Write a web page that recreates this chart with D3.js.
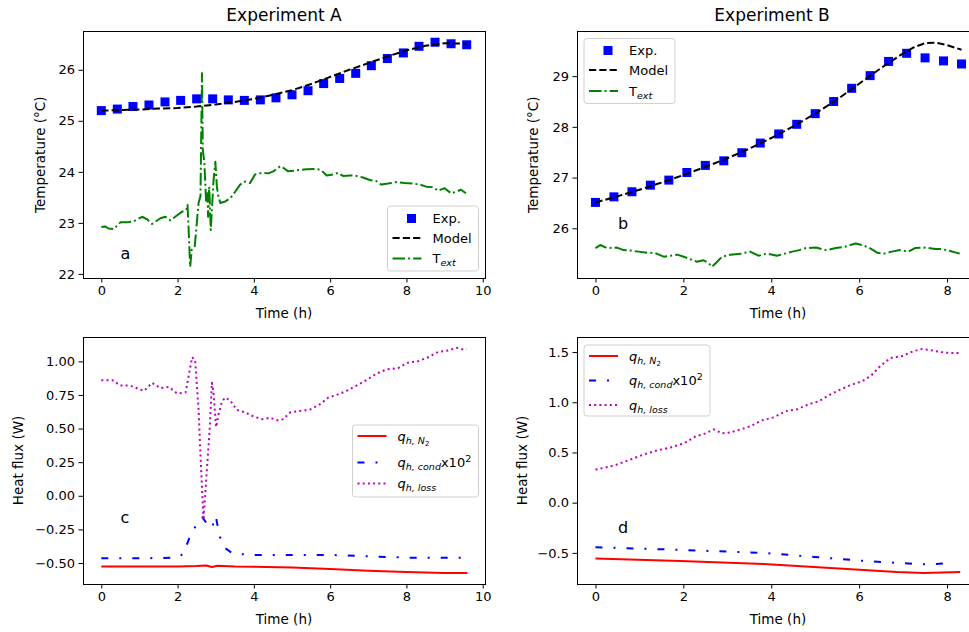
<!DOCTYPE html>
<html>
<head>
<meta charset="utf-8">
<script src="https://cdn.jsdelivr.net/npm/d3@7"></script>
<style>
  html, body { margin: 0; padding: 0; background: #fff; }
  svg { display: block; overflow: hidden; font-family: "DejaVu Sans", sans-serif; }
</style>
</head>
<body>
<div id="chart"></div>
<script>
// ---- data ----
var timeExp = [0, 0.42, 0.83, 1.25, 1.67, 2.08, 2.5, 2.92, 3.33, 3.75, 4.17, 4.58, 5, 5.42, 5.83, 6.25, 6.67, 7.08, 7.5, 7.92, 8.33, 8.75, 9.17, 9.58];

var expA = [25.20, 25.23, 25.28, 25.31, 25.37, 25.40, 25.43, 25.43, 25.41, 25.40, 25.41, 25.45, 25.51, 25.59, 25.73, 25.83, 25.93, 26.08, 26.22, 26.33, 26.46, 26.54, 26.51, 26.49];
var modelTimeA = [0, 0.5, 1, 1.5, 2, 2.5, 3, 3.5, 4, 4.5, 5, 5.5, 6, 6.5, 7, 7.5, 8, 8.5, 9, 9.58];
var modelA = [25.20, 25.21, 25.22, 25.24, 25.25, 25.28, 25.32, 25.37, 25.43, 25.51, 25.60, 25.72, 25.86, 26.00, 26.13, 26.26, 26.38, 26.47, 26.52, 26.51];
var extTimeA = [0, 0.1, 0.19, 0.33, 0.5, 0.67, 0.85, 1.07, 1.2, 1.33, 1.55, 1.68, 1.81, 1.99, 2.12, 2.23, 2.26, 2.29, 2.33, 2.37, 2.45, 2.55, 2.6, 2.64, 2.66, 2.7, 2.75, 2.78, 2.8, 2.83, 2.87, 2.94, 2.99, 3.03, 3.07, 3.12, 3.25, 3.38, 3.51, 3.64, 3.77, 3.9, 4.03, 4.21, 4.38, 4.51, 4.69, 4.77, 4.9, 5.12, 5.38, 5.64, 5.77, 5.91, 6.08, 6.21, 6.34, 6.52, 6.69, 6.86, 7.04, 7.21, 7.34, 7.52, 7.73, 7.95, 8.17, 8.35, 8.52, 8.7, 8.83, 9.0, 9.17, 9.3, 9.43, 9.56];
var extA = [22.92, 22.93, 22.89, 22.88, 23.01, 23.01, 23.03, 23.12, 23.07, 22.98, 23.09, 23.12, 23.05, 23.15, 23.22, 23.25, 23.35, 22.86, 22.14, 22.47, 22.54, 23.39, 23.52, 25.93, 24.43, 24.20, 23.39, 23.58, 23.12, 23.71, 22.86, 23.81, 24.20, 23.71, 23.52, 23.39, 23.42, 23.48, 23.61, 23.75, 23.81, 23.78, 23.95, 23.98, 23.97, 24.01, 24.11, 24.08, 24.01, 24.03, 24.05, 24.06, 24.03, 23.93, 23.95, 23.98, 23.92, 23.93, 23.92, 23.89, 23.84, 23.82, 23.75, 23.77, 23.80, 23.78, 23.77, 23.75, 23.71, 23.70, 23.63, 23.68, 23.58, 23.61, 23.65, 23.58];

var expB = [26.51, 26.62, 26.72, 26.85, 26.95, 27.10, 27.24, 27.33, 27.49, 27.68, 27.86, 28.05, 28.26, 28.50, 28.76, 29.01, 29.29, 29.45, 29.36, 29.30, 29.24];
var modelTimeB = [0, 0.5, 1, 1.5, 2, 2.5, 3, 3.5, 4, 4.5, 5, 5.5, 6, 6.5, 7, 7.25, 7.5, 7.75, 8, 8.33];
var modelB = [26.51, 26.63, 26.76, 26.90, 27.05, 27.21, 27.38, 27.57, 27.78, 28.01, 28.26, 28.54, 28.85, 29.16, 29.45, 29.57, 29.65, 29.66, 29.61, 29.52];
var extTimeB = [0, 0.11, 0.26, 0.49, 0.64, 0.79, 0.98, 1.17, 1.36, 1.55, 1.71, 1.86, 2.01, 2.16, 2.31, 2.46, 2.58, 2.65, 2.77, 2.88, 3.07, 3.3, 3.52, 3.71, 3.9, 4.13, 4.36, 4.48, 4.64, 4.79, 5.02, 5.25, 5.47, 5.69, 5.92, 6.07, 6.22, 6.41, 6.56, 6.74, 6.93, 7.12, 7.27, 7.5, 7.73, 7.88, 8.03, 8.29];
var extB = [25.61, 25.67, 25.61, 25.62, 25.57, 25.56, 25.54, 25.52, 25.51, 25.44, 25.46, 25.48, 25.44, 25.39, 25.34, 25.37, 25.31, 25.24, 25.34, 25.44, 25.48, 25.50, 25.54, 25.46, 25.50, 25.46, 25.51, 25.54, 25.57, 25.61, 25.62, 25.57, 25.61, 25.64, 25.70, 25.67, 25.62, 25.52, 25.50, 25.54, 25.57, 25.54, 25.61, 25.62, 25.59, 25.59, 25.56, 25.50];

var lossTimeC = [0, 0.29, 0.5, 0.75, 1.12, 1.33, 1.55, 1.77, 1.99, 2.21, 2.29, 2.38, 2.46, 2.55, 2.61, 2.68, 2.75, 2.84, 2.9, 2.94, 3.01, 3.07, 3.16, 3.25, 3.38, 3.55, 3.77, 3.99, 4.21, 4.43, 4.64, 4.77, 4.95, 5.16, 5.47, 5.73, 5.95, 6.17, 6.43, 6.69, 6.95, 7.22, 7.48, 7.78, 8.04, 8.3, 8.57, 8.83, 9.09, 9.31, 9.45, 9.58];
var lossC = [0.86, 0.86, 0.82, 0.82, 0.78, 0.84, 0.80, 0.81, 0.76, 0.77, 0.89, 1.03, 1.01, 0.64, 0.24, -0.18, 0.12, 0.49, 0.84, 0.77, 0.51, 0.60, 0.70, 0.73, 0.71, 0.64, 0.62, 0.59, 0.57, 0.58, 0.56, 0.57, 0.62, 0.63, 0.64, 0.68, 0.73, 0.75, 0.78, 0.82, 0.86, 0.91, 0.94, 0.95, 0.99, 1.00, 1.03, 1.07, 1.08, 1.10, 1.09, 1.09];
var condTimeC = [0, 1, 2, 2.15, 2.3, 2.5, 2.65, 2.8, 2.9, 3.0, 3.1, 3.25, 3.45, 4, 5, 6, 7, 8, 9, 9.5];
var condC = [-0.465, -0.465, -0.46, -0.43, -0.32, -0.21, -0.16, -0.22, -0.24, -0.15, -0.30, -0.39, -0.43, -0.44, -0.44, -0.44, -0.45, -0.46, -0.46, -0.46];
var n2TimeC = [0, 1, 2, 2.5, 2.75, 2.9, 3.05, 3.5, 4, 5, 6, 7, 8, 9, 9.6];
var n2C = [-0.525, -0.525, -0.525, -0.522, -0.518, -0.53, -0.52, -0.525, -0.527, -0.533, -0.545, -0.557, -0.567, -0.575, -0.575];

var lossTimeD = [0, 0.23, 0.49, 0.8, 1.1, 1.4, 1.71, 2.01, 2.28, 2.5, 2.69, 2.88, 3.07, 3.3, 3.52, 3.79, 4.06, 4.32, 4.59, 4.85, 5.08, 5.31, 5.54, 5.8, 6.07, 6.26, 6.48, 6.71, 6.98, 7.24, 7.43, 7.62, 7.85, 8.07, 8.3];
var lossD = [0.33, 0.35, 0.38, 0.43, 0.48, 0.52, 0.55, 0.59, 0.66, 0.69, 0.73, 0.69, 0.70, 0.73, 0.76, 0.82, 0.85, 0.91, 0.93, 0.98, 1.01, 1.07, 1.12, 1.17, 1.21, 1.26, 1.36, 1.44, 1.46, 1.51, 1.53, 1.52, 1.50, 1.49, 1.49];
var condTimeD = [0, 1.93, 3.83, 4.97, 6.1, 6.86, 7.54, 8.15];
var condD = [-0.444, -0.47, -0.50, -0.54, -0.58, -0.60, -0.615, -0.60];
var n2TimeD = [0, 1.93, 3.83, 4.97, 6.1, 6.86, 7.47, 8.3];
var n2D = [-0.555, -0.58, -0.61, -0.64, -0.67, -0.69, -0.70, -0.69];

var xTicksA = [0, 2, 4, 6, 8, 10];
var xTicksB = [0, 2, 4, 6, 8];
var yTicksA = [22, 23, 24, 25, 26];
var yTicksB = [26, 27, 28, 29];
var yTicksC = [-0.5, -0.25, 0, 0.25, 0.5, 0.75, 1.0];
var yTicksD = [-0.5, 0, 0.5, 1.0, 1.5];

// ---- drawing ----
var W = 969, H = 632;
var svg = d3.select("#chart").append("svg").attr("width", W).attr("height", H);

var BLUE = "#0000ff", GREEN = "#008000", RED = "#ff0000", MAG = "#bf00bf";
var DASH = "7.2,3.1", DASHDOT = "12.5,3.1,2,3.1", COND_DASH = "7,11,2,11", DOT = "2,3.2";

function zip(xs, ys) { return xs.map(function (x, i) { return [x, ys[i]]; }); }

function panel(cfg) {
    var x = d3.scaleLinear().domain(cfg.xDomain).range([cfg.left, cfg.right]);
    var y = d3.scaleLinear().domain(cfg.yDomain).range([cfg.bottom, cfg.top]);
    var g = svg.append("g");

    var xAxis = g.append("g")
        .attr("transform", "translate(0," + cfg.bottom + ")")
        .call(d3.axisBottom(x).tickValues(cfg.xTicks).tickSizeInner(4.5).tickSizeOuter(0).tickPadding(3.5).tickFormat(d3.format("d")));
    var yAxis = g.append("g")
        .attr("transform", "translate(" + cfg.left + ",0)")
        .call(d3.axisLeft(y).tickValues(cfg.yTicks).tickSizeInner(4.5).tickSizeOuter(0).tickPadding(3.5).tickFormat(d3.format(cfg.yFormat)));
    [xAxis, yAxis].forEach(function (a) {
        a.select(".domain").remove();
        a.selectAll(".tick line").style("stroke", "#000").style("stroke-width", "1px");
        a.selectAll(".tick text").style("font-size", "13px").style("fill", "#000")
            .style("font-family", "DejaVu Sans");
    });

    var clipId = "clip" + cfg.name;
    svg.append("clipPath").attr("id", clipId).append("rect")
        .attr("x", cfg.left).attr("y", cfg.top)
        .attr("width", cfg.right - cfg.left).attr("height", cfg.bottom - cfg.top);
    var plot = g.append("g").attr("clip-path", "url(#" + clipId + ")");

    var line = d3.line().x(function (d) { return x(d[0]); }).y(function (d) { return y(d[1]); });
    cfg.series.forEach(function (s) {
        if (s.type === "square") {
            plot.selectAll(null).data(zip(s.x, s.y)).enter().append("rect")
                .attr("x", function (d) { return x(d[0]) - 4.5; })
                .attr("y", function (d) { return y(d[1]) - 4.5; })
                .attr("width", 9).attr("height", 9)
                .style("fill", s.color);
        } else {
            plot.append("path").datum(zip(s.x, s.y))
                .attr("d", line)
                .style("fill", "none")
                .style("stroke", s.color)
                .style("stroke-width", s.width || 2)
                .style("stroke-dasharray", s.dash || null)
                .style("stroke-linejoin", "round");
        }
    });

    // frame
    g.append("rect")
        .attr("x", cfg.left).attr("y", cfg.top)
        .attr("width", cfg.right - cfg.left).attr("height", cfg.bottom - cfg.top)
        .style("fill", "none").style("stroke", "#000").style("stroke-width", 1)
        .style("shape-rendering", "crispEdges");

    // panel letter
    g.append("text").attr("x", cfg.letterX).attr("y", cfg.letterY)
        .text(cfg.name).style("font-size", "16px");

    // axis labels
    g.append("text").attr("x", cfg.xLabelX).attr("y", cfg.bottom + 40)
        .attr("text-anchor", "middle").style("font-size", "13.5px").text("Time (h)");
    g.append("text")
        .attr("transform", "translate(" + cfg.yLabelX + "," + ((cfg.top + cfg.bottom) / 2) + ") rotate(-90)")
        .attr("text-anchor", "middle").style("font-size", "13.5px").text(cfg.yLabel);

    if (cfg.title) {
        g.append("text").attr("x", cfg.titleX).attr("y", 21)
            .attr("text-anchor", "middle").style("font-size", "17px").text(cfg.title);
    }

    // legend
    var L = cfg.legend;
    g.append("rect").attr("x", L.x).attr("y", L.y).attr("width", L.w).attr("height", L.h)
        .attr("rx", 3).style("fill", "#fff").style("fill-opacity", 0.8)
        .style("stroke", "#d0d0d0").style("stroke-width", 1);
    cfg.series.forEach(function (s, i) {
        var cy = L.rows[i];
        if (s.type === "square") {
            g.append("rect").attr("x", L.x + 19.5).attr("y", cy - 4.5)
                .attr("width", 9).attr("height", 9).style("fill", s.color);
        } else {
            g.append("line").attr("x1", L.x + 5).attr("x2", L.x + 34)
                .attr("y1", cy).attr("y2", cy)
                .style("stroke", s.color).style("stroke-width", s.width || 2)
                .style("stroke-dasharray", s.dash || null);
        }
        var t = g.append("text").attr("x", L.x + 45).attr("y", cy + 4.5).style("font-size", "13px");
        s.label(t);
    });
}

function labelText(str) { return function (t) { t.text(str); }; }
function labelText2(t) {
    t.append("tspan").text("T");
    t.append("tspan").attr("dy", 3).style("font-size", "9.5px").style("font-style", "italic").text("ext");
}
function labelN2(t) {
    t.append("tspan").style("font-style", "italic").text("q");
    t.append("tspan").attr("dy", 3).style("font-size", "9.5px").style("font-style", "italic").text("h, N");
    t.append("tspan").attr("dy", 2).style("font-size", "7px").text("2");
}
function labelCond(t) {
    t.append("tspan").style("font-style", "italic").text("q");
    t.append("tspan").attr("dy", 3).style("font-size", "9.5px").style("font-style", "italic").text("h, cond");
    t.append("tspan").attr("dy", -3).text("x10");
    t.append("tspan").attr("dy", -5).style("font-size", "9.5px").text("2");
}
function labelLoss(t) {
    t.append("tspan").style("font-style", "italic").text("q");
    t.append("tspan").attr("dy", 3).style("font-size", "9.5px").style("font-style", "italic").text("h, loss");
}

panel({
    name: "a", title: "Experiment A", titleX: 284, left: 83, right: 485, top: 31.5, bottom: 278,
    xDomain: [-0.48, 10.06], yDomain: [21.92, 26.75], xTicks: xTicksA, yTicks: yTicksA, yFormat: "d",
    letterX: 120.5, letterY: 259, xLabelX: 284, yLabelX: 45, yLabel: "Temperature (°C)",
    series: [
        { type: "square", x: timeExp, y: expA, color: BLUE, label: labelText("Exp.") },
        { x: modelTimeA, y: modelA, color: "#000", dash: DASH, label: labelText("Model") },
        { x: extTimeA, y: extA, color: GREEN, dash: DASHDOT, label: labelText2 }
    ],
    legend: { x: 387.5, y: 206, w: 91, h: 65, rows: [218.5, 238, 258.5] }
});

panel({
    name: "b", title: "Experiment B", titleX: 772, left: 577, right: 980, top: 31.5, bottom: 278,
    xDomain: [-0.42, 8.75], yDomain: [25.02, 29.88], xTicks: xTicksB, yTicks: yTicksB, yFormat: "d",
    letterX: 618, letterY: 229, xLabelX: 778, yLabelX: 538, yLabel: "Temperature (°C)",
    series: [
        { type: "square", x: timeExp.slice(0, expB.length), y: expB, color: BLUE, label: labelText("Exp.") },
        { x: modelTimeB, y: modelB, color: "#000", dash: DASH, label: labelText("Model") },
        { x: extTimeB, y: extB, color: GREEN, dash: DASHDOT, label: labelText2 }
    ],
    legend: { x: 584, y: 38.5, w: 91, h: 65, rows: [50.5, 70, 91] }
});

panel({
    name: "c", left: 83, right: 485, top: 337, bottom: 584,
    xDomain: [-0.48, 10.06], yDomain: [-0.656, 1.181], xTicks: xTicksA, yTicks: yTicksC, yFormat: ".2f",
    letterX: 120.5, letterY: 523, xLabelX: 284, yLabelX: 23, yLabel: "Heat flux (W)",
    series: [
        { x: n2TimeC, y: n2C, color: RED, label: labelN2 },
        { x: condTimeC, y: condC, color: BLUE, dash: COND_DASH, label: labelCond },
        { x: lossTimeC, y: lossC, color: MAG, dash: DOT, label: labelLoss }
    ],
    legend: { x: 352.5, y: 425, w: 126, h: 72, rows: [436, 462.5, 483.5] }
});

panel({
    name: "d", left: 577, right: 980, top: 337, bottom: 584,
    xDomain: [-0.42, 8.75], yDomain: [-0.81, 1.65], xTicks: xTicksB, yTicks: yTicksD, yFormat: ".1f",
    letterX: 618, letterY: 533, xLabelX: 778, yLabelX: 527, yLabel: "Heat flux (W)",
    series: [
        { x: n2TimeD, y: n2D, color: RED, label: labelN2 },
        { x: condTimeD, y: condD, color: BLUE, dash: COND_DASH, label: labelCond },
        { x: lossTimeD, y: lossD, color: MAG, dash: DOT, label: labelLoss }
    ],
    legend: { x: 584, y: 345, w: 126, h: 71, rows: [356, 380.5, 405] }
});
</script>
</body>
</html>
